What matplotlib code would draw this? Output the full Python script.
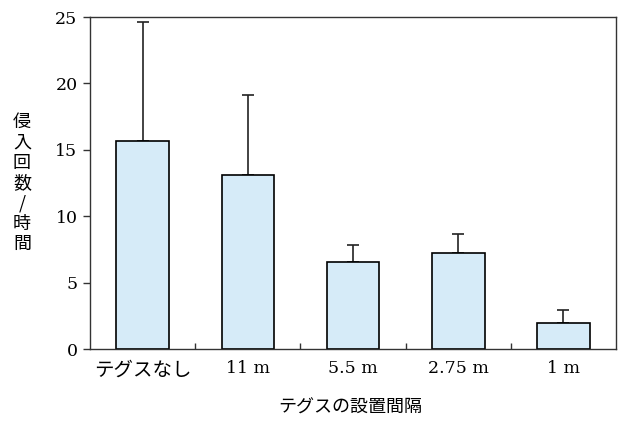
import matplotlib
matplotlib.use("Agg")
import matplotlib.pyplot as plt
from matplotlib.ticker import FixedLocator

categories = ["テグスなし", "11 m", "5.5 m", "2.75 m", "1 m"]
intrusions = [15.7, 13.1, 6.55, 7.2, 1.95]
errors_up = [8.9, 6.0, 1.3, 1.45, 0.95]
y_ticks = [0, 5, 10, 15, 20, 25]

serif = ["DejaVu Serif"]
jp = ["Noto Sans CJK JP", "DejaVu Sans"]

fig = plt.figure(figsize=(6.22, 4.21), dpi=100)
ax = fig.add_axes([90 / 622, 1 - 349 / 421, (616 - 90) / 622, (349 - 17) / 421])

x = list(range(len(categories)))
ax.bar(x, intrusions, width=0.5, color="#d6ebf8", edgecolor="black", linewidth=1.2, zorder=2)
ax.errorbar(x, intrusions, yerr=[[0] * len(errors_up), errors_up], fmt="none",
            ecolor="#222222", elinewidth=1.2, capsize=4, capthick=1.2, zorder=1)

ax.set_xlim(-0.5, len(categories) - 0.5)
ax.set_ylim(0, 25)
ax.set_yticks(y_ticks)
ax.set_yticklabels([str(v) for v in y_ticks], fontfamily=serif, fontsize=12.5)
ax.tick_params(axis="y", direction="out", length=5, width=1, pad=4, color="#333333")

ax.set_xticks(x)
ax.tick_params(axis="x", which="major", length=0, pad=8)
for lab, txt in zip(ax.set_xticklabels(categories), categories):
    if txt[0].isdigit():
        lab.set_fontfamily(serif)
        lab.set_fontsize(12.5)
    else:
        lab.set_fontfamily(jp)
        lab.set_fontsize(14)
ax.xaxis.set_minor_locator(FixedLocator([i + 0.5 for i in range(len(categories) - 1)]))
ax.tick_params(axis="x", which="minor", direction="in", length=4, width=1, color="#333333")

for s in ax.spines.values():
    s.set_linewidth(1.0)
    s.set_color("#333333")

fig.text(350 / 622, 1 - 408 / 421, "テグスの設置間隔", ha="center", va="center",
         fontfamily=jp, fontsize=13)
fig.text(22 / 622, 1 - 183 / 421, "\n".join("侵入回数/時間"), ha="center", va="center",
         fontfamily=jp, fontsize=13, linespacing=1.17)

fig.savefig("out.png", dpi=100)
